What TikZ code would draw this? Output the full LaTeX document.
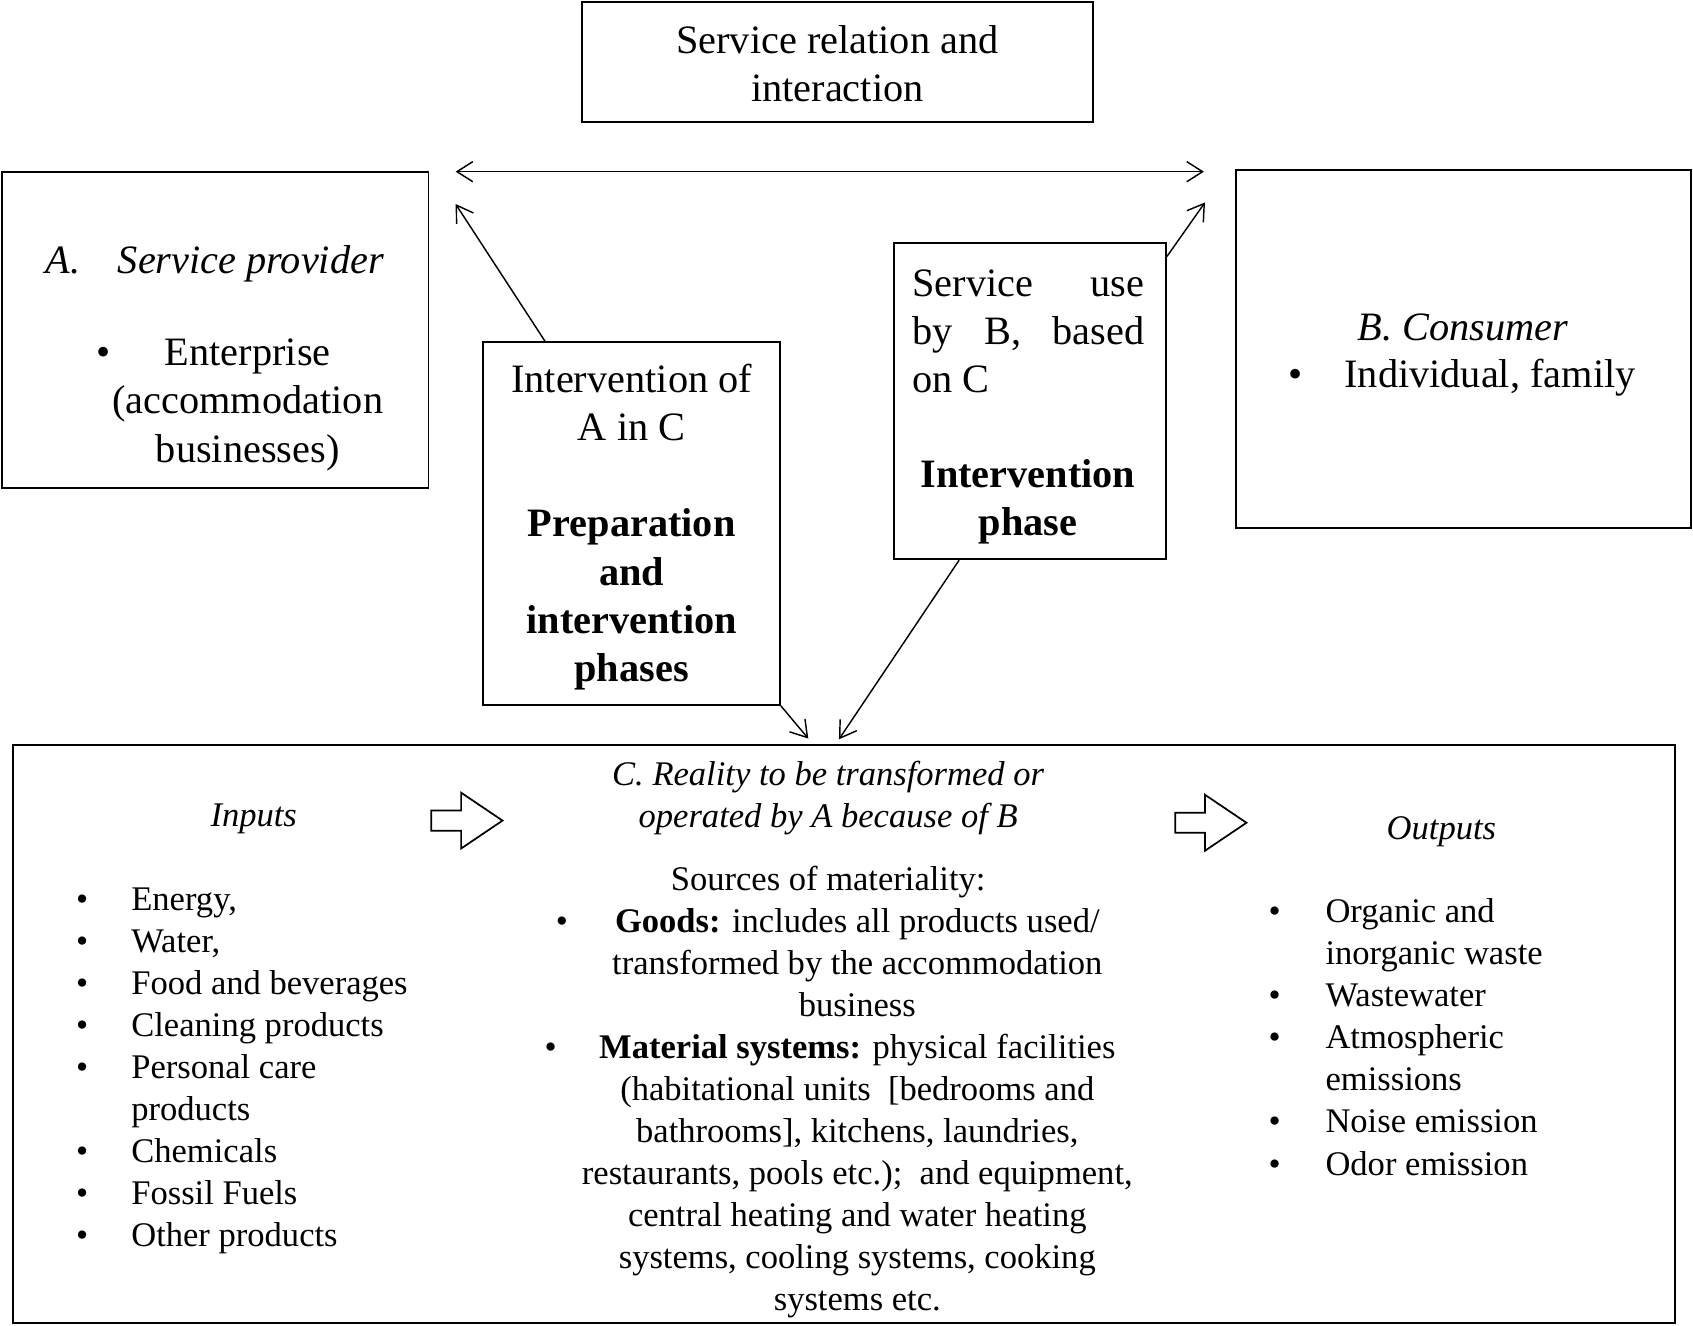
\documentclass[tikz,border=0pt]{standalone}
\usepackage{fontspec}
\setmainfont{Liberation Serif}
\usetikzlibrary{arrows.meta,shapes.arrows}

\newcommand{\itm}[1][15pt]{\llap{\textbullet\hspace{#1}}}

\tikzset{every path/.style={line width=0.5pt}}
\tikzset{
  box/.style={draw, line width=0.6pt, inner sep=0pt},
  big/.style={font=\fontsize{14}{16.75}\selectfont, inner sep=0pt},
  small/.style={font=\fontsize{12}{14.6}\selectfont, inner sep=0pt},
  conn/.style={-{Straight Barb[length=5.5pt,width=7pt]}},
  both/.style={{Straight Barb[length=5.5pt,width=7pt]}-{Straight Barb[length=5.5pt,width=7pt]}},
  flow/.style={single arrow, draw, line width=0.6pt, minimum height=24.75pt, minimum width=18.75pt,
    single arrow head extend=6.2pt, single arrow tip angle=68, inner sep=3.2pt}
}

\begin{document}
\begin{tikzpicture}[x=0.375pt, y=-0.375pt]
\useasboundingbox (0,0) rectangle (1568,1227.2);

% boxes
\node[box, minimum width=177.4pt, minimum height=41.6pt] (rel) at (775.5,57.5) {};
\node[box, minimum width=148.1pt, minimum height=109.9pt] (prov) at (199.5,305.5) {};
\node[box, minimum width=103.1pt, minimum height=126pt] (intA) at (585,485) {};
\node[box, minimum width=94.5pt, minimum height=109.9pt] (useB) at (954,371.5) {};
\node[box, minimum width=157.9pt, minimum height=124.3pt] (cons) at (1355.5,323.3) {};
\node[box, minimum width=577.1pt, minimum height=200.6pt] (real) at (781.5,957.5) {};

% texts of the upper boxes
\node[big, align=center] (relT) at (775.5,59) {Service relation and\\interaction};
\node[big] (provT) at (199,244) {\textit{A.}\hspace{13pt}\textit{Service provider}};
\node[big, align=center] (provL) at (229.5,375) {\itm[18.75pt]Enterprise\\(accommodation\\businesses)};
\node[big, align=center] (intT) at (585,488) {Intervention of\\A in C\\[16.75pt]\textbf{Preparation}\\\textbf{and}\\\textbf{intervention}\\\textbf{phases}};
\node[big, align=left] (useT) at (952.5,307) {\makebox[80.6pt][s]{Service use}\\\makebox[80.6pt][s]{by B, based}\\on C};
\node[big, align=center] (useP) at (952,464.5) {\textbf{Intervention}\\\textbf{phase}};
\node[big] (consT) at (1355,303) {\textit{B. Consumer}};
\node[big] (consL) at (1380,350) {\itm[14.4pt]Individual, family};

% texts of C
\node[small] (inT) at (235,758) {\textit{Inputs}};
\node[flow] (flowA) at (425.5,760) {};
\node[small, align=center] (realT) at (767,739) {\textit{C. Reality to be transformed or}\\\textit{operated by A because of B}};
\node[flow] (flowB) at (1114.5,762) {};
\node[small] (outT) at (1335,770) {\textit{Outputs}};

\node[small, align=left, anchor=west] (inL) at (121,992) {\itm Energy,\\\itm Water,\\\itm Food and beverages\\\itm Cleaning products\\\itm Personal care\\products\\\itm Chemicals\\\itm Fossil Fuels\\\itm Other products};
\node[small] (srcT) at (767,817) {Sources of materiality:};
\node[small, align=center] (srcL) at (794,1031) {\itm[16.3pt]\textbf{Goods:} includes all products used/\\transformed by the accommodation\\business\\\itm[14.8pt]\textbf{Material systems:} physical facilities\\(habitational units\ \ [bedrooms and\\bathrooms], kitchens, laundries,\\restaurants, pools etc.);\ \ and equipment,\\central heating and water heating\\systems, cooling systems, cooking\\systems etc.};
\node[small, align=left, anchor=west] (outL) at (1227,960.5) {\itm[15.6pt]Organic and\\inorganic waste\\\itm[15.6pt]Wastewater\\\itm[15.6pt]Atmospheric\\emissions\\\itm[15.6pt]Noise emission\\\itm[15.6pt]Odor emission};

% free ends of the connectors
\coordinate (relL) at (422,159);
\coordinate (relR) at (1115,159);
\coordinate (provC) at (422,189);
\coordinate (consC) at (1116,187.5);
\coordinate (realA) at (748.6,684);
\coordinate (realB) at (777,684.7);

\draw[both] (relL) -- (relR);
\draw[conn] ([xshift=21.8pt]intA.north west) -- (provC);
\draw[conn] ([yshift=-5pt]useB.north east) -- (consC);
\draw[conn] (intA.south east) -- (realA);
\draw[conn] ([xshift=22.9pt]useB.south west) -- (realB);
\end{tikzpicture}
\end{document}
